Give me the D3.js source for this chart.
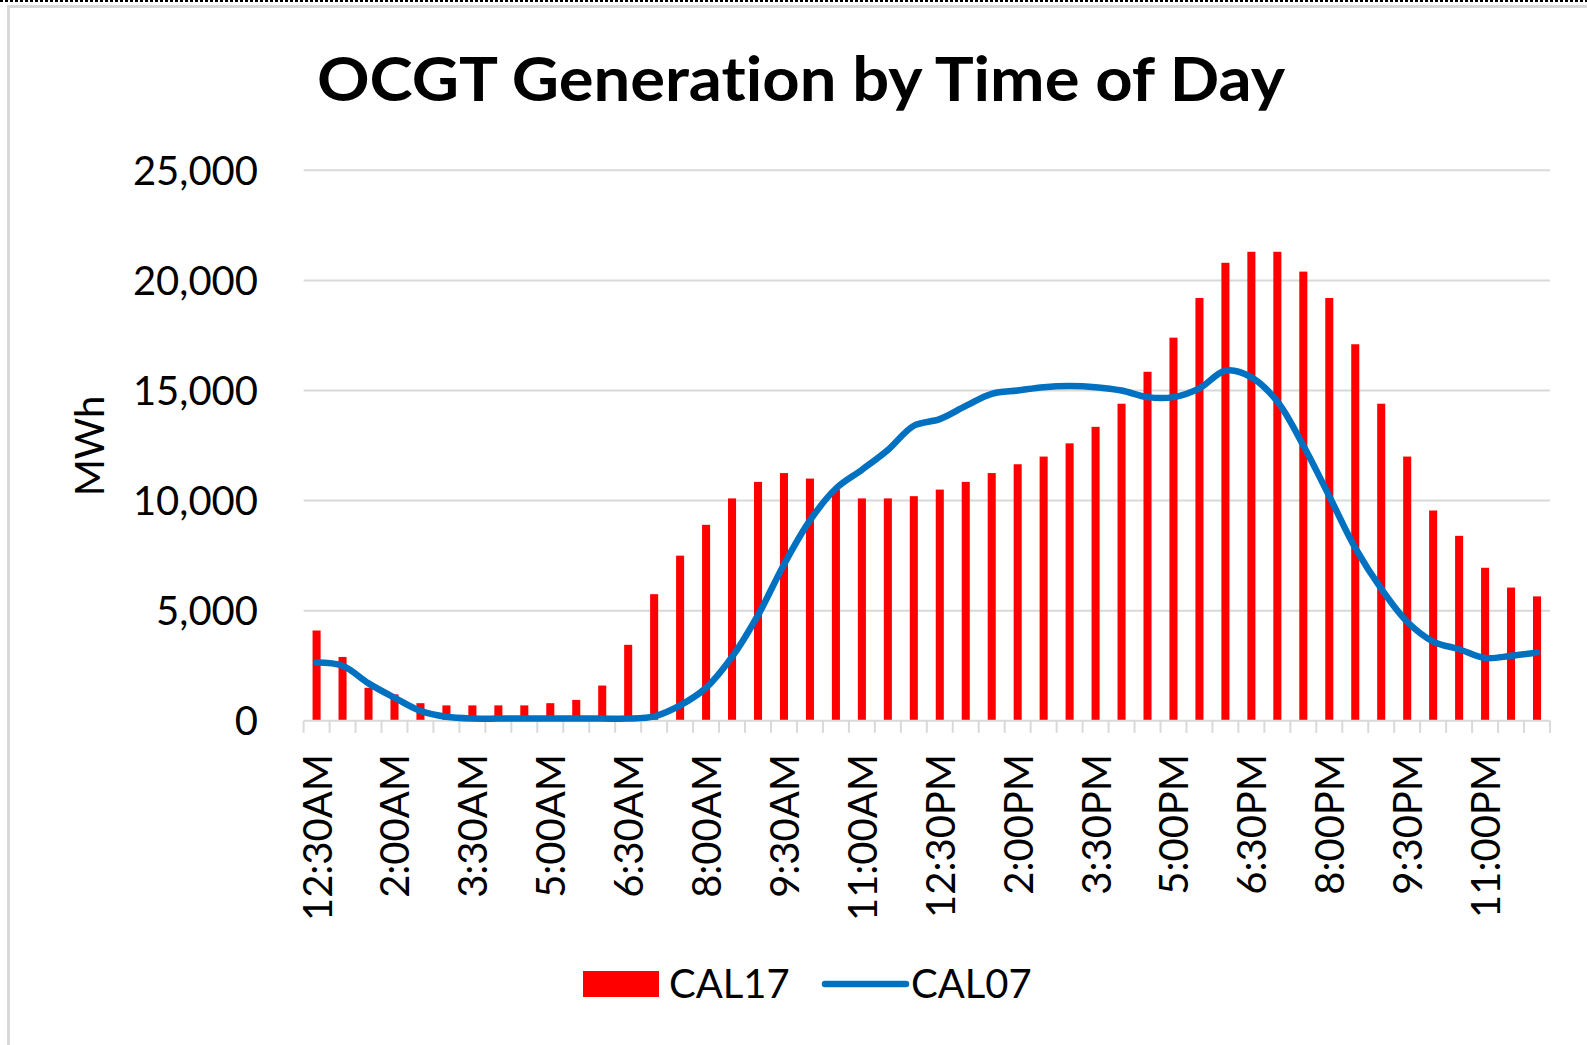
<!doctype html>
<html>
<head>
  <meta charset="utf-8">
  <title>OCGT Generation by Time of Day</title>
  <style>
    body { margin: 0; background: #fff; }
    text { font-family: Lato, "Open Sans", sans-serif; fill: #000; font-variant-ligatures: none; }
  </style>
</head>
<body>
  <div class="graphContainer"></div>
  <script src="https://cdn.jsdelivr.net/npm/d3@7"></script>
  <script>

// half-hour intervals, ending times
let times = [
  "12:30AM", "1:00AM", "1:30AM", "2:00AM", "2:30AM", "3:00AM",
  "3:30AM", "4:00AM", "4:30AM", "5:00AM", "5:30AM", "6:00AM",
  "6:30AM", "7:00AM", "7:30AM", "8:00AM", "8:30AM", "9:00AM",
  "9:30AM", "10:00AM", "10:30AM", "11:00AM", "11:30AM", "12:00PM",
  "12:30PM", "1:00PM", "1:30PM", "2:00PM", "2:30PM", "3:00PM",
  "3:30PM", "4:00PM", "4:30PM", "5:00PM", "5:30PM", "6:00PM",
  "6:30PM", "7:00PM", "7:30PM", "8:00PM", "8:30PM", "9:00PM",
  "9:30PM", "10:00PM", "10:30PM", "11:00PM", "11:30PM", "12:00AM"
];

// CAL17 (bars), MWh
let cal17 = [
  4100, 2900, 1500, 1200, 800, 700, 700, 700, 700, 800, 950, 1600,
  3450, 5750, 7500, 8900, 10100, 10850, 11250, 11000, 10500, 10100, 10100, 10200,
  10500, 10850, 11250, 11650, 12000, 12600, 13350, 14400, 15850, 17400, 19200, 20800,
  21300, 21300, 20400, 19200, 17100, 14400, 12000, 9550, 8400, 6950, 6050, 5650
];

// CAL07 (line), MWh
let cal07 = [
  2650, 2500, 1700, 1050, 450, 180, 100, 100, 100, 100, 100, 100,
  100, 200, 700, 1500, 2900, 4800, 7100, 9100, 10550, 11400, 12300, 13400,
  13700, 14300, 14850, 15000, 15150, 15200, 15150, 15000, 14700, 14700, 15100, 15900,
  15600, 14500, 12500, 10200, 7850, 6000, 4500, 3600, 3250, 2850, 2950, 3100
];

let yTicks = [0, 5000, 10000, 15000, 20000, 25000];
let labelEvery = 3;

function chart() {
    var w = 1587,
        h = 1045;

    let left = 303.6, right = 1550,
        top = 170.3, bottom = 720.8;

    var svg = d3.select(".graphContainer")
        .append("svg")
        .attr("width", w)
        .attr("height", h);

    // chart frame
    svg.append("rect")
        .attr("x", 8.5).attr("y", 6.5)
        .attr("width", w + 20).attr("height", h + 20)
        .attr("fill", "none")
        .attr("stroke", "#d9d9d9")
        .attr("stroke-width", 3);
    svg.append("line")
        .attr("x1", 0).attr("x2", w)
        .attr("y1", 1).attr("y2", 1)
        .attr("stroke", "#000")
        .attr("stroke-width", 2)
        .attr("stroke-dasharray", "3,2");

    var x = d3.scaleBand().domain(times).range([left, right]).padding(0);
    var y = d3.scaleLinear().domain([0, 25000]).range([bottom, top]);
    let bw = x.bandwidth();

    // gridlines
    svg.append("g")
        .selectAll("line")
        .data(yTicks.slice(1))
        .enter().append("line")
        .attr("x1", left).attr("x2", right)
        .attr("y1", d => y(d)).attr("y2", d => y(d))
        .attr("stroke", "#d9d9d9")
        .attr("stroke-width", 2);

    // y labels
    svg.append("g")
        .selectAll("text")
        .data(yTicks)
        .enter().append("text")
        .attr("x", 258)
        .attr("y", d => y(d))
        .attr("dy", "0.36em")
        .attr("text-anchor", "end")
        .style("font-size", "40px")
        .text(d3.format(","));

    // bars
    svg.append("g")
        .selectAll("rect")
        .data(cal17)
        .enter().append("rect")
        .attr("x", (d, i) => x(times[i]) + bw / 2 - bw * 0.155)
        .attr("width", bw * 0.31)
        .attr("y", d => y(d))
        .attr("height", d => y(0) - y(d))
        .attr("fill", "#ff0000");

    // category axis
    svg.append("line")
        .attr("x1", left).attr("x2", right)
        .attr("y1", y(0)).attr("y2", y(0))
        .attr("stroke", "#d9d9d9")
        .attr("stroke-width", 2);
    svg.append("g")
        .selectAll("line")
        .data(d3.range(times.length + 1))
        .enter().append("line")
        .attr("x1", i => left + i * bw).attr("x2", i => left + i * bw)
        .attr("y1", y(0)).attr("y2", y(0) + 12)
        .attr("stroke", "#d9d9d9")
        .attr("stroke-width", 2);

    svg.append("g")
        .selectAll("text")
        .data(times.filter((t, i) => i % labelEvery == 0))
        .enter().append("text")
        .attr("transform", d => `translate(${x(d) + bw / 2 + 15},754) rotate(-90)`)
        .attr("text-anchor", "end")
        .style("font-size", "40px")
        .text(d => d);

    // CAL07 line
    let line = d3.line()
        .x((d, i) => x(times[i]) + bw / 2)
        .y(d => y(d))
        .curve(d3.curveCatmullRom.alpha(0.5));
    svg.append("path")
        .datum(cal07)
        .attr("d", line)
        .attr("fill", "none")
        .attr("stroke", "#0070c0")
        .attr("stroke-width", 6.5)
        .attr("stroke-linecap", "round");

    // axis title
    svg.append("text")
        .attr("transform", "translate(104,446) rotate(-90)")
        .attr("text-anchor", "middle")
        .style("font-size", "40px")
        .text("MWh");

    // title
    svg.append("text")
        .attr("x", 801).attr("y", 101)
        .attr("text-anchor", "middle")
        .attr("textLength", 968)
        .attr("lengthAdjust", "spacingAndGlyphs")
        .style("font-size", "62px")
        .style("font-weight", "bold")
        .text("OCGT Generation by Time of Day");

    // legend
    let lg = svg.append("g");
    lg.append("rect")
        .attr("x", 583).attr("y", 971)
        .attr("width", 76).attr("height", 26)
        .attr("fill", "#ff0000");
    lg.append("text")
        .attr("x", 669).attr("y", 998)
        .style("font-size", "40px")
        .text("CAL17");
    lg.append("line")
        .attr("x1", 825).attr("x2", 906)
        .attr("y1", 984).attr("y2", 984)
        .attr("stroke", "#0070c0")
        .attr("stroke-width", 6.5)
        .attr("stroke-linecap", "round");
    lg.append("text")
        .attr("x", 911).attr("y", 998)
        .style("font-size", "40px")
        .text("CAL07");
}

chart();

  </script>
</body>
</html>
